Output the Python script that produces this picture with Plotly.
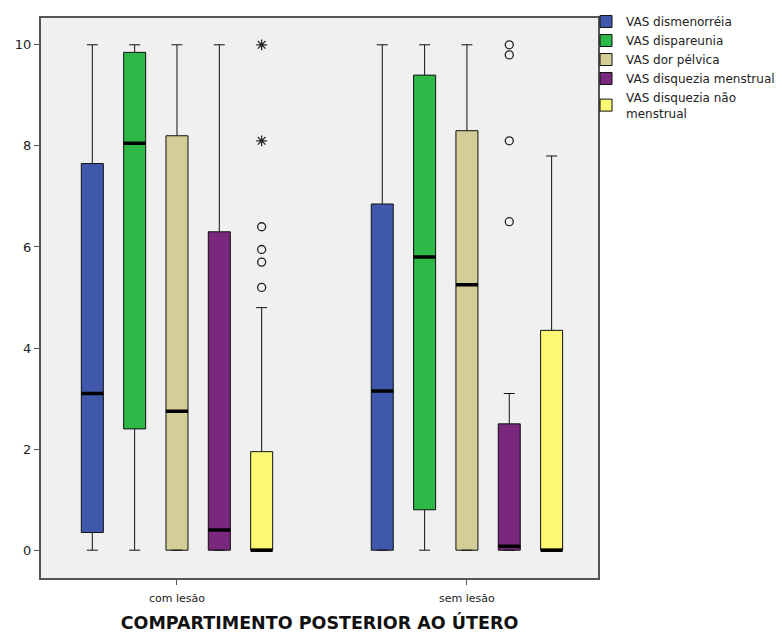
import plotly.graph_objects as go

# ---- data ----
groups = ["com lesão", "sem lesão"]
series_names = [
    "VAS dismenorréia",
    "VAS dispareunia",
    "VAS dor pélvica",
    "VAS disquezia menstrual",
    "VAS disquezia não<br>menstrual",
]
colors = ["#3f58ab", "#2eb848", "#d3ce97", "#7a287e", "#fbf873"]

# per series: [com lesão, sem lesão]
lower_whisker = [[0, 0], [0, 0], [0, 0], [0, 0], [0, 0]]
q1_vals = [[0.35, 0], [2.4, 0.8], [0, 0], [0, 0], [0, 0]]
median_vals = [[3.1, 3.15], [8.05, 5.8], [2.75, 5.25], [0.4, 0.08], [0, 0]]
q3_vals = [[7.65, 6.85], [9.85, 9.4], [8.2, 8.3], [6.3, 2.5], [1.95, 4.35]]
upper_whisker = [[10, 10], [10, 10], [10, 10], [10, 3.1], [4.8, 7.8]]

# outliers (circles) and extreme values (stars)
outliers = [
    [[], []],
    [[], []],
    [[], []],
    [[], [10, 9.8, 8.1, 6.5]],
    [[6.4, 5.95, 5.7, 5.2], []],
]
extremes = [
    [[], []],
    [[], []],
    [[], []],
    [[], []],
    [[10, 8.1], []],
]

y_ticks = [0, 2, 4, 6, 8, 10]


def point_overlay(i, pts, symbol, size, width):
    """Invisible box in the same slot that only shows the given points."""
    idx = [g for g in range(len(groups)) if len(pts[g])]
    if not idx:
        return None
    med = [median_vals[i][g] for g in idx]
    return go.Box(
        name=series_names[i], x=[groups[g] for g in idx],
        offsetgroup=f"s{i}", legendgroup=f"s{i}",
        q1=med, median=med, q3=med, lowerfence=med, upperfence=med,
        y=[pts[g] for g in idx], boxpoints="all", pointpos=0, jitter=0,
        fillcolor="rgba(0,0,0,0)", line=dict(color="rgba(0,0,0,0)", width=0),
        marker=dict(symbol=symbol, color="#222222", size=size,
                    line=dict(width=width, color="#222222")),
        whiskerwidth=0, showlegend=False, hoverinfo="y",
    )


fig = go.Figure()
for i, name in enumerate(series_names):
    og = f"s{i}"
    # main box
    fig.add_trace(go.Box(
        name=name, x=groups, offsetgroup=og, legendgroup=og,
        q1=q1_vals[i], median=median_vals[i], q3=q3_vals[i],
        lowerfence=lower_whisker[i], upperfence=upper_whisker[i],
        boxpoints=False,
        fillcolor=colors[i], line=dict(color="#111111", width=1),
        whiskerwidth=0.5, showlegend=True,
    ))
    # thick median line
    fig.add_trace(go.Box(
        name=name, x=groups, offsetgroup=og, legendgroup=og,
        q1=median_vals[i], median=median_vals[i], q3=median_vals[i],
        lowerfence=median_vals[i], upperfence=median_vals[i],
        fillcolor="rgba(0,0,0,0)", line=dict(color="#000000", width=3.5),
        whiskerwidth=0, boxpoints=False, showlegend=False, hoverinfo="skip",
    ))
    for tr in (point_overlay(i, outliers[i], "circle-open", 8, 1.3),
               point_overlay(i, extremes[i], "asterisk-open", 9, 1.2)):
        if tr is not None:
            fig.add_trace(tr)

fig.update_layout(
    width=782, height=633,
    margin=dict(l=41, r=184, t=18, b=55, autoexpand=False),
    paper_bgcolor="white", plot_bgcolor="#f0f0f0",
    boxmode="group", boxgap=0.27, boxgroupgap=0.48,
    font=dict(family="DejaVu Sans", size=12, color="#222222"),
    legend=dict(x=0.9785, xanchor="left", y=1.0196, yanchor="top",
                font=dict(size=12), bgcolor="rgba(0,0,0,0)",
                tracegroupgap=0, itemclick=False),
    xaxis=dict(
        type="category", range=[-0.469, 1.452], automargin=False,
        showline=True, linecolor="#555555", linewidth=2, mirror=True,
        ticks="outside", ticklen=5, tickcolor="#555555",
        ticklabelstandoff=4,
        tickfont=dict(size=11), showgrid=False, zeroline=False,
        title=dict(text="<b>COMPARTIMENTO POSTERIOR AO ÚTERO</b>",
                   font=dict(size=17.5, color="#111111"), standoff=27),
    ),
    yaxis=dict(
        range=[-0.55, 10.53], tickvals=y_ticks, automargin=False,
        showline=True, linecolor="#555555", linewidth=2, mirror=True,
        ticks="outside", ticklen=5, tickcolor="#555555",
        tickfont=dict(size=13), showgrid=False, zeroline=False,
    ),
)

fig.write_html("out.html", post_script="document.body.style.margin='0';",
               config={"displayModeBar": False})
